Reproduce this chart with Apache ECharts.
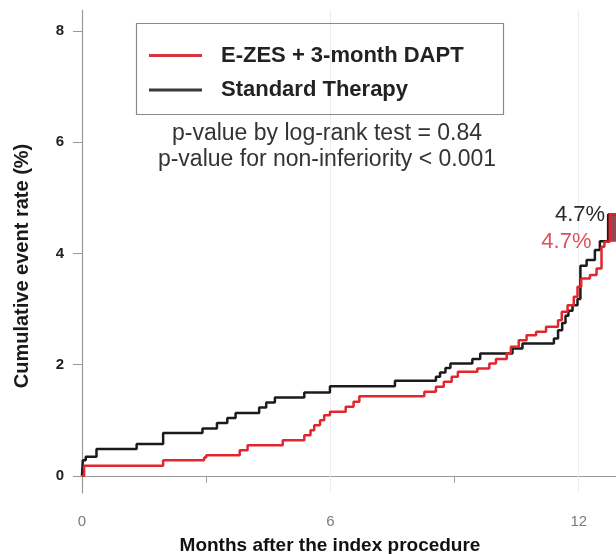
<!DOCTYPE html>
<html>
<head>
<meta charset="utf-8">
<script src="https://cdn.jsdelivr.net/npm/echarts@6/dist/echarts.min.js"></script>
<style>
  html, body { margin: 0; padding: 0; background: #ffffff; }
  #chart { width: 616px; height: 554px; }
</style>
</head>
<body>
<div id="chart"></div>
<script>
// Kaplan-Meier style cumulative event curves (months, %)
const ezesMonths = [0, 0.05, 1.96, 2.95, 3.0, 3.81, 4.0, 4.85, 5.37, 5.52, 5.61, 5.75, 5.85, 5.99, 6.37, 6.56, 6.70,
  8.27, 8.55, 8.74, 8.93, 9.08, 9.55, 9.84, 10.0, 10.26, 10.36, 10.55, 10.74, 10.97, 11.21, 11.5, 11.59, 11.73,
  11.88, 11.97, 12.06, 12.27, 12.43, 12.55, 12.62, 12.75, 12.9];
const ezesRates = [0, 0.18, 0.28, 0.33, 0.37, 0.46, 0.55, 0.64, 0.73, 0.82, 0.91, 1.0, 1.09, 1.15, 1.24, 1.33, 1.43,
  1.51, 1.60, 1.69, 1.78, 1.87, 1.93, 2.02, 2.1, 2.2, 2.32, 2.44, 2.53, 2.59, 2.68, 2.8, 2.95, 3.07,
  3.22, 3.4, 3.55, 3.61, 3.73, 4.12, 4.21, 4.7, 4.7];

const stdMonths = [0, 0.02, 0.09, 0.35, 1.32, 1.96, 2.91, 3.26, 3.51, 3.71, 4.28, 4.45, 4.66, 5.37, 5.99, 7.56,
  8.55, 8.65, 8.78, 8.9, 9.43, 9.62, 10.4, 10.64, 11.4, 11.5, 11.6, 11.68, 11.75, 11.85, 11.97, 12.04, 12.19,
  12.39, 12.51, 12.71, 12.9];
const stdRates = [0, 0.28, 0.34, 0.48, 0.57, 0.77, 0.85, 0.95, 1.04, 1.13, 1.23, 1.32, 1.41, 1.50, 1.61, 1.71,
  1.78, 1.86, 1.94, 2.02, 2.10, 2.20, 2.29, 2.38, 2.47, 2.62, 2.75, 2.88, 2.97, 3.07, 3.18, 3.78, 3.88,
  4.06, 4.22, 4.7, 4.7];

const yTicks = [0, 2, 4, 6, 8];
const xTicks = [0, 3, 6, 9, 12];
const xTickLabels = [0, 6, 12];
const gridMonths = [6, 12];

const seriesNames = ['E-ZES + 3-month DAPT', 'Standard Therapy'];
const pValueLines = ['p-value by log-rank test = 0.84', 'p-value for non-inferiority < 0.001'];

const RED = '#e2262e';
const BLACK = '#1b1b1b';
const FONT = 'Liberation Sans, Arial, sans-serif';

const pairs = (xs, ys) => xs.map((x, i) => [x, ys[i]]);
const last = arr => arr[arr.length - 1];

const chart = echarts.init(document.getElementById('chart'), null, { renderer: 'canvas' });

const option = {
  animation: false,
  backgroundColor: '#ffffff',
  grid: { left: 82, right: 0, top: 10, bottom: 61, containLabel: false },
  xAxis: {
    type: 'value', min: 0, max: 12.9,
    axisLine: { show: true, lineStyle: { color: '#9a9a9a', width: 1.2 } },
    axisTick: { show: true, customValues: xTicks, length: 7, lineStyle: { color: '#9a9a9a' } },
    axisLabel: { customValues: xTickLabels, margin: 21, color: '#7a7a7a', fontSize: 15, fontFamily: FONT },
    splitLine: { show: false }
  },
  yAxis: {
    type: 'value', min: -0.31, max: 8.38,
    axisLine: { show: true, lineStyle: { color: '#9a9a9a', width: 1.2 } },
    axisTick: { show: true, customValues: yTicks, length: 9, lineStyle: { color: '#9a9a9a' } },
    axisLabel: { customValues: yTicks, margin: 18, color: '#222', fontSize: 15, fontWeight: 'bold', fontFamily: FONT },
    splitLine: { show: false }
  },
  series: [
    {
      name: seriesNames[1], type: 'line', step: 'end', symbol: 'none',
      data: pairs(stdMonths, stdRates),
      lineStyle: { color: BLACK, width: 2.5 },
      // faint vertical reference lines kept underneath the curves
      markLine: {
        z: 1, silent: true, symbol: 'none', label: { show: false },
        lineStyle: { color: '#ececec', width: 1, type: 'solid' },
        data: gridMonths.map(m => ({ xAxis: m }))
      },
      markPoint: {
        symbol: 'circle', symbolSize: 0,
        data: [{ coord: [stdMonths[stdMonths.length - 2], last(stdRates)] }],
        label: {
          show: true, position: 'left', distance: 3,
          formatter: () => last(stdRates).toFixed(1) + '%',
          color: '#2a2a2a', fontSize: 22, fontFamily: FONT
        }
      },
      z: 3
    },
    {
      name: seriesNames[0], type: 'line', step: 'end', symbol: 'none',
      data: pairs(ezesMonths, ezesRates),
      lineStyle: { color: RED, width: 2.5 },
      markPoint: {
        symbol: 'circle', symbolSize: 0,
        data: [{ coord: [ezesMonths[ezesMonths.length - 4], ezesRates[ezesRates.length - 3]] }],
        label: {
          show: true, position: 'left', distance: 10,
          formatter: () => last(ezesRates).toFixed(1) + '%',
          color: '#e0505c', fontSize: 22, fontFamily: FONT
        }
      },
      markArea: {
        silent: true,
        itemStyle: { color: 'rgba(128,40,58,0.85)' },
        data: [[{ coord: [12.72, ezesRates[ezesRates.length - 3]] }, { coord: [12.9, last(ezesRates)] }]]
      },
      z: 4
    }
  ],
  graphic: [
    // legend box
    { type: 'rect', shape: { x: 136.5, y: 23.5, width: 367, height: 91 },
      style: { fill: 'none', stroke: '#8a8a8a', lineWidth: 1.2 }, z: 10 },
    { type: 'line', shape: { x1: 149, y1: 55.5, x2: 202, y2: 55.5 },
      style: { stroke: '#d8343e', lineWidth: 3 }, z: 10 },
    { type: 'line', shape: { x1: 149, y1: 90, x2: 202, y2: 90 },
      style: { stroke: '#3a3a3a', lineWidth: 3 }, z: 10 },
    { type: 'text', x: 221, y: 55.5, z: 10,
      style: { text: seriesNames[0], fill: '#222', font: 'bold 22px ' + FONT, verticalAlign: 'middle' } },
    { type: 'text', x: 221, y: 90, z: 10,
      style: { text: seriesNames[1], fill: '#222', font: 'bold 22px ' + FONT, verticalAlign: 'middle' } },
    // test statistics
    { type: 'text', x: 327, y: 134, z: 10,
      style: { text: pValueLines[0], fill: '#333', font: '23px ' + FONT, align: 'center', verticalAlign: 'middle' } },
    { type: 'text', x: 327, y: 160, z: 10,
      style: { text: pValueLines[1], fill: '#333', font: '23px ' + FONT, align: 'center', verticalAlign: 'middle' } },
    // axis titles
    { type: 'text', x: 22, y: 266, rotation: Math.PI / 2, z: 10,
      style: { text: 'Cumulative event rate (%)', fill: '#1a1a1a', font: 'bold 20px ' + FONT, align: 'center', verticalAlign: 'middle' } },
    { type: 'text', x: 330, y: 546, z: 10,
      style: { text: 'Months after the index procedure', fill: '#111', font: 'bold 19px ' + FONT, align: 'center', verticalAlign: 'middle' } }
  ]
};

chart.setOption(option);
</script>
</body>
</html>
